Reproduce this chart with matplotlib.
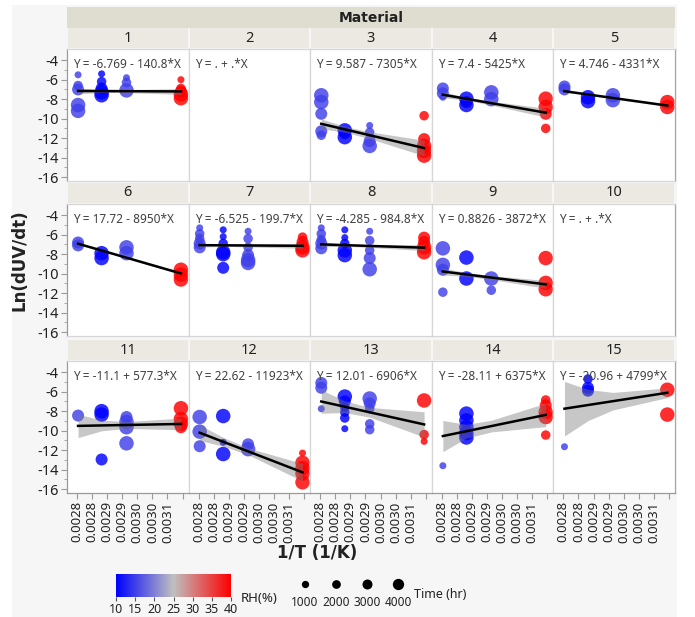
import numpy as np
import matplotlib.pyplot as plt
from matplotlib.colors import LinearSegmentedColormap, Normalize
from matplotlib.patches import Rectangle

plt.rcParams['font.family'] = ['Noto Sans', 'DejaVu Sans']

W, H = 695, 617

# --- data ---
temps_c = [90, 80, 70, 50]          # exposure temperatures
rh_at_temp = [15, 10, 15, 40]       # RH (%) at each temperature
time_levels = [1000, 2000, 3000, 4000]

# (temperature C, Ln(dUV/dt), time hr) per material
mat01 = [(90, -5.5, 1000), (90, -6.6, 2000), (90, -7.0, 3000), (90, -8.6, 4000), (90, -9.2, 4000),
         (80, -5.4, 1000), (80, -6.2, 2000), (80, -6.9, 3000), (80, -7.3, 4000), (80, -7.6, 4000),
         (70, -5.8, 1000), (70, -6.3, 2000), (70, -7.1, 4000),
         (50, -6.0, 1000), (50, -6.9, 2000), (50, -7.2, 3000), (50, -7.5, 4000), (50, -7.9, 4000)]
mat02 = []
mat03 = [(90, -7.6, 4000), (90, -8.3, 4000), (90, -9.5, 3000), (90, -11.3, 3000), (90, -11.7, 2000),
         (80, -11.2, 4000), (80, -11.5, 3000), (80, -11.9, 4000),
         (70, -10.7, 1000), (70, -11.4, 2000), (70, -12.3, 3000), (70, -12.8, 4000),
         (50, -9.7, 2000), (50, -12.1, 3000), (50, -12.8, 4000), (50, -13.3, 4000), (50, -13.8, 4000)]
mat04 = [(90, -6.9, 3000), (90, -7.4, 3000), (90, -7.8, 1000),
         (80, -7.95, 4000), (80, -8.3, 3000), (80, -8.6, 4000),
         (70, -7.3, 4000), (70, -8.0, 4000),
         (50, -7.95, 4000), (50, -8.8, 4000), (50, -9.5, 3000), (50, -11.0, 2000)]
mat05 = [(90, -6.7, 3000), (90, -7.0, 3000),
         (80, -7.8, 4000), (80, -8.2, 4000),
         (70, -7.6, 4000), (70, -8.1, 4000),
         (50, -8.3, 4000), (50, -8.8, 4000)]
mat06 = [(90, -6.8, 3000), (90, -7.1, 3000),
         (80, -7.9, 4000), (80, -8.4, 4000),
         (70, -7.3, 4000), (70, -7.9, 4000),
         (50, -9.6, 4000), (50, -10.1, 4000), (50, -10.6, 4000)]
mat07 = [(90, -5.3, 1000), (90, -5.9, 2000), (90, -6.4, 2000), (90, -6.9, 3000), (90, -7.3, 3000),
         (80, -5.5, 1000), (80, -6.2, 1000), (80, -6.9, 2000), (80, -7.8, 4000), (80, -8.0, 4000), (80, -9.4, 3000),
         (70, -5.65, 1000), (70, -6.4, 2000), (70, -7.3, 2000), (70, -8.1, 3000), (70, -8.6, 4000), (70, -8.9, 4000),
         (50, -6.25, 2000), (50, -6.75, 3000), (50, -7.3, 4000), (50, -7.6, 4000)]
mat08 = [(90, -5.3, 1000), (90, -5.9, 2000), (90, -6.5, 2000), (90, -6.9, 3000), (90, -7.4, 3000),
         (80, -5.5, 1000), (80, -6.3, 1000), (80, -6.9, 2000), (80, -7.6, 4000), (80, -8.1, 4000),
         (70, -5.65, 1000), (70, -6.6, 2000), (70, -7.6, 2000), (70, -8.4, 3000), (70, -9.55, 4000),
         (50, -6.3, 3000), (50, -6.75, 3000), (50, -7.3, 4000), (50, -7.8, 4000)]
mat09 = [(90, -7.4, 4000), (90, -9.1, 4000), (90, -9.6, 3000), (90, -11.9, 2000),
         (80, -8.35, 4000), (80, -10.5, 4000),
         (70, -10.5, 4000), (70, -11.7, 2000),
         (50, -8.4, 4000), (50, -10.95, 4000), (50, -11.6, 4000)]
mat10 = []
mat11 = [(90, -8.45, 3000),
         (80, -8.0, 4000), (80, -8.35, 4000), (80, -12.96, 3000),
         (70, -8.6, 3000), (70, -9.1, 4000), (70, -9.65, 4000), (70, -11.3, 4000),
         (50, -7.7, 4000), (50, -8.8, 4000), (50, -9.3, 4000), (50, -9.65, 3000)]
mat12 = [(90, -8.6, 4000), (90, -10.1, 4000), (90, -11.6, 3000),
         (80, -8.5, 4000), (80, -11.2, 1000), (80, -12.4, 4000),
         (70, -11.4, 3000), (70, -11.9, 4000),
         (50, -12.3, 1000), (50, -13.3, 4000), (50, -13.85, 4000), (50, -14.4, 4000), (50, -15.3, 4000)]
mat13 = [(90, -5.1, 3000), (90, -5.6, 3000), (90, -7.75, 1000),
         (80, -6.5, 4000), (80, -7.0, 3000), (80, -7.6, 2000), (80, -8.1, 2000), (80, -8.7, 2000), (80, -9.8, 1000),
         (70, -6.7, 4000), (70, -7.2, 3000), (70, -7.75, 2000), (70, -9.3, 2000), (70, -9.9, 2000),
         (50, -6.9, 4000), (50, -10.4, 2000), (50, -11.1, 1000)]
mat14 = [(90, -13.6, 1000),
         (80, -8.25, 4000), (80, -8.95, 4000), (80, -9.65, 4000), (80, -10.25, 4000), (80, -10.7, 4000),
         (50, -6.85, 2000), (50, -7.4, 3000), (50, -8.1, 4000), (50, -8.6, 4000), (50, -10.45, 2000)]
mat15 = [(90, -11.65, 1000),
         (80, -4.7, 2000), (80, -5.6, 3000), (80, -5.9, 3000),
         (50, -5.8, 4000), (50, -8.35, 4000)]

materials = [mat01, mat02, mat03, mat04, mat05, mat06, mat07, mat08,
             mat09, mat10, mat11, mat12, mat13, mat14, mat15]

# fitted lines as shown in the panels (None = no fit)
intercepts = [-6.769, None, 9.587, 7.4, 4.746, 17.72, -6.525, -4.285,
              0.8826, None, -11.1, 22.62, 12.01, -28.11, -20.96]
slopes = [-140.8, None, -7305, -5425, -4331, -8950, -199.7, -984.8,
          -3872, None, 577.3, -11923, -6906, 6375, 4799]
# half-width of the confidence band at 90, 80, 70, 50 C
band_hw = [[0.3, 0.15, 0.15, 0.3], None, [0.5, 0.3, 0.35, 0.8], [0.3, 0.15, 0.2, 0.45],
           [0.1, 0.08, 0.08, 0.12], [0.1, 0.08, 0.08, 0.12], [0.2, 0.1, 0.15, 0.25],
           [0.25, 0.12, 0.15, 0.3], [0.35, 0.2, 0.2, 0.4], None,
           [1.2, 0.55, 0.35, 0.6], [0.8, 0.45, 0.35, 0.9], [1.2, 0.6, 0.5, 1.3],
           [1.6, 0.7, 0.6, 1.2], [2.8, 1.6, 0.9, 0.5]]

xtick_vals = [0.00275, 0.0028, 0.00285, 0.0029, 0.00295, 0.0030, 0.00305, 0.0031]
xtick_labels = ["0.0028", "0.0028", "0.0029", "0.0029", "0.0030", "0.0030", "0.0031", ""]
ytick_vals = [-4, -6, -8, -10, -12, -14, -16]

# --- styling ---
cmap = LinearSegmentedColormap.from_list('rh', [(0, '#0000ff'), (0.5, '#c0c0c0'), (1, '#ff0000')])
norm = Normalize(10, 40)
diam_px = {1000: 7, 2000: 9.5, 3000: 12, 4000: 14.5}
strip_col = '#ebe9e1'
head_col = '#dfdcd0'
txt_col = '#222222'
bold_font = ['DejaVu Sans']


def rect(x, y, w, h):
    return [x / W, 1 - (y + h) / H, w / W, h / H]


def inv_t(tc):
    return 1.0 / (np.asarray(tc, dtype=float) + 273.15)


fig = plt.figure(figsize=(W / 100, H / 100), dpi=100)
fig.add_artist(Rectangle((12 / W, 0), (677 - 12) / W, 1 - 5 / H, transform=fig.transFigure,
                         facecolor='#f6f6f6', edgecolor='none', zorder=-5))

# header strip
hax = fig.add_axes(rect(67, 7, 608, 21))
hax.set_facecolor(head_col)
hax.set_xticks([]); hax.set_yticks([])
for s in hax.spines.values():
    s.set_visible(False)
hax.text(0.5, 0.5, 'Material', ha='center', va='center', fontsize=10,
         fontweight='bold', family=bold_font, color=txt_col, transform=hax.transAxes)

col_w = 608 / 5
strip_tops = [28, 183, 340]
ax_tops = [49, 204, 361]
ax_h = 132

for i, pts in enumerate(materials):
    r, c = divmod(i, 5)
    x0 = 67 + c * col_w

    sax = fig.add_axes(rect(x0 + 1, strip_tops[r], col_w - 2, ax_tops[r] - strip_tops[r] - 1))
    sax.set_facecolor(strip_col)
    sax.set_xticks([]); sax.set_yticks([])
    for s in sax.spines.values():
        s.set_visible(False)
    sax.text(0.5, 0.5, str(i + 1), ha='center', va='center', fontsize=10.5,
             color=txt_col, transform=sax.transAxes)

    ax = fig.add_axes(rect(x0, ax_tops[r], col_w, ax_h))
    ax.set_facecolor('white')
    ax.set_xlim(0.002717, 0.00312)
    ax.set_ylim(-16.4, -2.85)
    for s in ax.spines.values():
        s.set_color('#d6d6d6')
        s.set_linewidth(0.9)
    if c == 4:
        ax.spines['right'].set_color('#a8a8a8')

    if pts:
        tc = np.array([p[0] for p in pts])
        yv = np.array([p[1] for p in pts])
        hrs = np.array([p[2] for p in pts])
        rh = np.array([rh_at_temp[temps_c.index(t)] for t in tc])
        sz = np.array([(diam_px[h] * 0.72) ** 2 for h in hrs])
        order = np.argsort(-sz)
        ax.scatter(inv_t(tc)[order], yv[order], s=sz[order], c=cmap(norm(rh[order])),
                   alpha=0.82, linewidths=0, zorder=2)

    if slopes[i] is not None:
        b0, b1 = intercepts[i], slopes[i]
        xb = inv_t(temps_c)
        yb = b0 + b1 * xb
        hw = np.array(band_hw[i])
        ax.fill_between(xb, yb - hw, yb + hw, color='#7a7a7a', alpha=0.42, lw=0, zorder=3)
        xl = inv_t([max(p[0] for p in pts), min(p[0] for p in pts)])
        ax.plot(xl, b0 + b1 * xl, color='black', lw=1.8, zorder=4)
        sign = '-' if b1 < 0 else '+'
        eq = f"Y = {b0:g} {sign} {abs(b1):g}*X"
    else:
        eq = "Y = . + .*X"
    ax.text(0.05, 0.88, eq, transform=ax.transAxes, fontsize=8.5, color='#404040',
            ha='left', va='center', zorder=5)

    if c == 0:
        ax.spines['left'].set_color('#9a9a9a')
        ax.set_yticks(ytick_vals)
        ax.set_yticks([-5, -7, -9, -11, -13, -15], minor=True)
        ax.set_yticklabels([str(v) for v in ytick_vals], fontsize=10.5, color=txt_col)
        ax.tick_params(axis='y', which='major', length=4, color='#9a9a9a', pad=2)
        ax.tick_params(axis='y', which='minor', length=2.5, color='#9a9a9a')
    else:
        ax.set_yticks([])
    if r == 2:
        ax.spines['bottom'].set_color('#9a9a9a')
        ax.set_xticks(xtick_vals)
        ax.set_xticklabels(xtick_labels, rotation=90, fontsize=9.5, color=txt_col)
        ax.tick_params(axis='x', length=4, color='#9a9a9a', pad=2)
    else:
        ax.set_xticks([])

fig.text(20 / W, 1 - 260 / H, 'Ln(dUV/dt)', rotation=90, ha='center', va='center',
         fontsize=12, fontweight='bold', family=bold_font, color=txt_col)
fig.text(317 / W, 1 - 553 / H, '1/T (1/K)', ha='center', va='center',
         fontsize=12, fontweight='bold', family=bold_font, color=txt_col)

# RH colour legend
cax = fig.add_axes(rect(116, 574, 115, 23))
grad = np.linspace(10, 40, 256).reshape(1, -1)
cax.imshow(grad, aspect='auto', cmap=cmap, norm=norm, extent=[10, 40, 0, 1])
cax.set_yticks([])
cax.set_xticks([10, 15, 20, 25, 30, 35, 40])
cax.set_xticklabels(['10', '15', '20', '25', '30', '35', '40'], fontsize=9, color=txt_col)
cax.tick_params(axis='x', length=3, pad=1, color='#555555')
for s in cax.spines.values():
    s.set_visible(False)
fig.text(241 / W, 1 - 599 / H, 'RH(%)', ha='left', va='center', fontsize=9.5, color=txt_col)

# time size legend
lax = fig.add_axes(rect(290, 570, 125, 45))
lax.set_xlim(290, 415)
lax.set_ylim(45, 0)
lax.axis('off')
leg_x = [305, 336, 367, 398]
leg_d = [7.3, 8.7, 10, 11.3]
for xx, dd, tl in zip(leg_x, leg_d, time_levels):
    lax.scatter([xx], [14], s=(dd * 0.72) ** 2, color='black', linewidths=0)
    lax.text(xx, 32, str(tl), ha='center', va='center', fontsize=8.5, color=txt_col)
fig.text(414 / W, 1 - 594 / H, 'Time (hr)', ha='left', va='center', fontsize=9, color=txt_col)

fig.savefig('out.png', dpi=100)
